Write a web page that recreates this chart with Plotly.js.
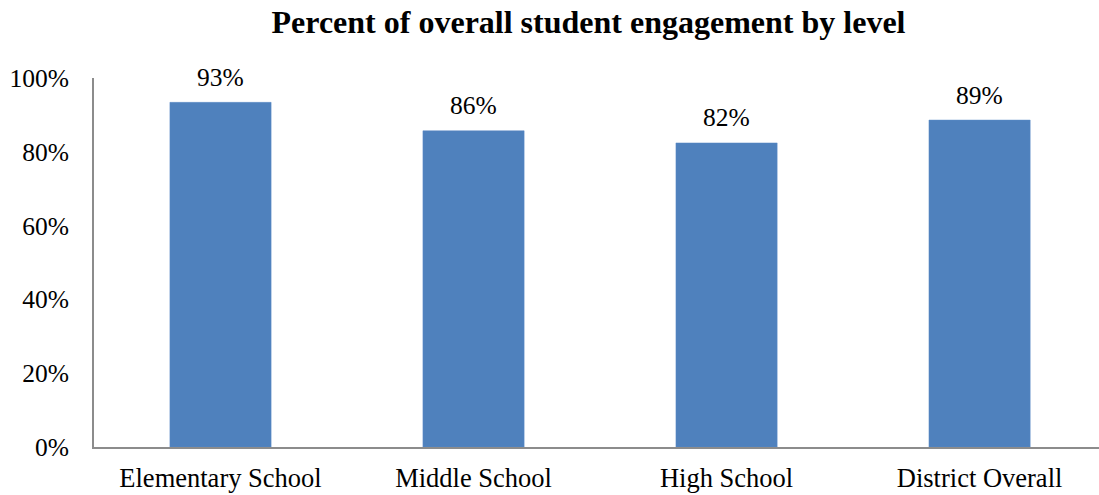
<!DOCTYPE html>
<html>
<head>
<meta charset="utf-8">
<script src="https://cdn.plot.ly/plotly-3.0.1.min.js"></script>
<style>html,body{margin:0;padding:0;background:#fff;}#chart{width:1099px;height:495px;}</style>
</head>
<body>
<div id="chart"></div>
<script>
const categories = ["Elementary School", "Middle School", "High School", "District Overall"];
const engagement = [0.934, 0.857, 0.824, 0.886];
const yTickValues = [0, 0.2, 0.4, 0.6, 0.8, 1.0];
const yTickLabels = ["0%", "20%", "40%", "60%", "80%", "100%"];

const font = "'Liberation Serif', 'Times New Roman', serif";

const trace = {
  type: "bar",
  x: categories,
  y: engagement,
  marker: {color: "#4F81BD", line: {color: "#5B8AC6", width: 0.5}},
  hoverinfo: "skip"
};

const labelAnnotations = categories.map((c, i) => ({
  x: c, y: engagement[i], xref: "x", yref: "y",
  text: Math.round(engagement[i] * 100) + "%",
  showarrow: false, yanchor: "middle", yshift: 25,
  font: {family: font, size: 25.5, color: "#000"}
}));

const layout = {
  width: 1099, height: 495,
  margin: {l: 94, r: 0, t: 78, b: 48, pad: 0},
  paper_bgcolor: "#fff", plot_bgcolor: "#fff",
  showlegend: false,
  bargap: 0.6,
  title: {text: "<b>Percent of overall student engagement by level</b>", x: 0.5355, xanchor: "center", y: 0.955, yanchor: "middle", font: {family: font, size: 32, color: "#000"}},
  annotations: labelAnnotations,
  xaxis: {
    type: "category",
    range: [-0.5, 3.472],
    showgrid: false, zeroline: false,
    showline: true, linecolor: "#8c8c8c", linewidth: 2,
    ticks: "", ticklabelstandoff: 6,
    tickfont: {family: font, size: 26.5, color: "#000"},
    fixedrange: true
  },
  yaxis: {
    range: [0, 1.0],
    tickvals: yTickValues, ticktext: yTickLabels,
    showgrid: false, zeroline: false,
    showline: true, linecolor: "#8c8c8c", linewidth: 2,
    ticks: "", ticklabelstandoff: 18,
    tickfont: {family: font, size: 25.5, color: "#000"},
    fixedrange: true
  }
};

Plotly.newPlot("chart", [trace], layout, {displayModeBar: false, staticPlot: true});
</script>
</body>
</html>
